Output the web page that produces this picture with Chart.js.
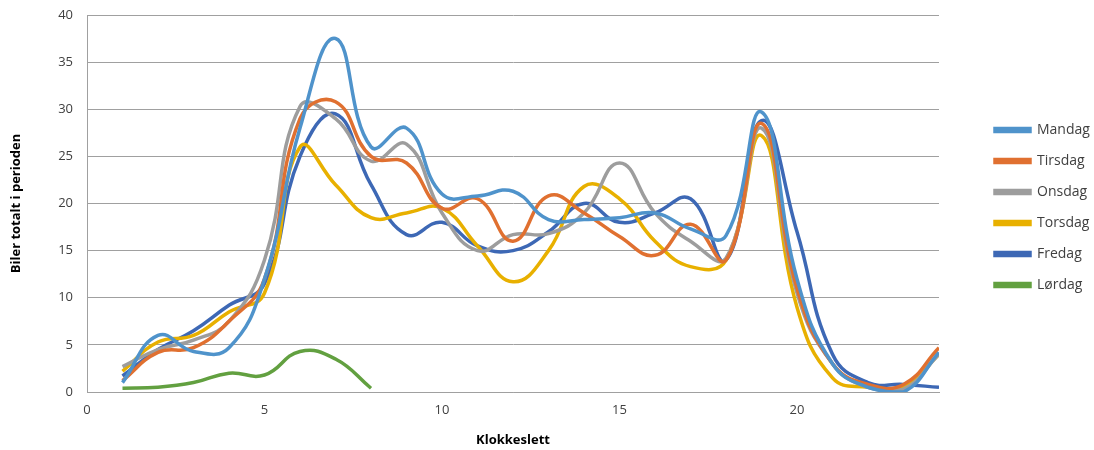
<!DOCTYPE html>
<html>
<head>
<meta charset="utf-8">
<script src="https://cdn.jsdelivr.net/npm/chart.js@4"></script>
<style>
  html, body { margin: 0; padding: 0; background: #fff; }
  #wrap { width: 1094px; height: 450px; }
</style>
</head>
<body>
<div id="wrap"><canvas id="biler"></canvas></div>
<script>
// Klokkeslett (timer)
const hours = [1, 2, 3, 4, 5, 6, 7, 8, 9, 10, 11, 12, 13, 14, 15, 16, 17, 18, 19, 20, 21, 22, 23, 24];

const mandag  = [1.0, 6.0, 4.3, 4.7, 12.0, 28.0, 37.5, 26.0, 28.0, 21.0, 20.8, 21.3, 18.3, 18.3, 18.5, 19.0, 17.3, 16.6, 29.7, 12.0, 3.0, 0.5, 0.0, 4.2];
const tirsdag = [1.2, 4.2, 4.7, 7.5, 12.0, 29.0, 30.8, 25.0, 24.3, 19.5, 20.5, 16.0, 20.8, 19.0, 16.5, 14.5, 17.8, 14.0, 28.5, 11.0, 3.0, 0.8, 0.8, 4.7];
const onsdag  = [2.7, 4.5, 5.5, 7.5, 14.0, 30.3, 29.0, 24.5, 26.3, 19.0, 15.0, 16.7, 16.8, 19.0, 24.3, 19.0, 16.0, 14.2, 28.0, 10.5, 3.0, 0.5, 0.3, 4.0];
const torsdag = [2.2, 5.3, 6.0, 8.5, 10.5, 26.0, 22.0, 18.5, 19.0, 19.5, 15.5, 11.7, 15.0, 21.8, 20.5, 16.0, 13.3, 14.0, 27.2, 9.0, 1.5, 0.5, 0.5, 4.0];
const fredag  = [1.7, 4.5, 6.5, 9.2, 11.5, 25.0, 29.5, 22.0, 16.7, 18.0, 15.5, 15.0, 17.0, 20.0, 18.0, 19.0, 20.5, 14.0, 28.8, 17.0, 4.0, 1.0, 0.8, 0.5];
const lordag  = [0.4, 0.5, 1.0, 2.0, 1.8, 4.3, 3.5, 0.4];

const xTicks = [0, 5, 10, 15, 20];

function serie(label, values, color) {
    return {
        label: label,
        data: values.map((v, i) => ({ x: hours[i], y: v })),
        borderColor: color,
        backgroundColor: color,
        borderWidth: 3.5,
        pointRadius: 0,
        tension: 0.45,
        fill: false
    };
}

// flytt legenden litt mot høyre og opp
const legendShift = {
    id: 'legendShift',
    afterInit(chart) {
        const fit = chart.legend.fit;
        chart.legend.fit = function () {
            fit.call(this);
            this.width = 155;
        };
    },
    afterLayout(chart) {
        chart.legend.left += 39;
        chart.legend.right += 39;
        chart.legend.top -= 25;
        chart.legend.bottom -= 25;
    }
};

const ctx = document.getElementById('biler').getContext('2d');
new Chart(ctx, {
    type: 'line',
    data: {
        datasets: [
            serie('Mandag', mandag, '#4f93cb'),
            serie('Tirsdag', tirsdag, '#e07030'),
            serie('Onsdag', onsdag, '#9d9d9d'),
            serie('Torsdag', torsdag, '#e8b000'),
            serie('Fredag', fredag, '#3d68b5'),
            serie('Lørdag', lordag, '#62a040')
        ]
    },
    plugins: [legendShift],
    options: {
        responsive: true,
        maintainAspectRatio: false,
        animation: false,
        layout: { padding: { top: 15, right: 0, bottom: 0, left: 0 } },
        plugins: {
            tooltip: { enabled: false },
            legend: {
                position: 'right',
                labels: {
                    boxWidth: 35,
                    boxHeight: 3,
                    padding: 17,
                    color: '#404040',
                    font: { family: 'Open Sans', size: 14 }
                }
            }
        },
        scales: {
            x: {
                type: 'linear',
                min: 0,
                max: 24,
                afterFit: s => { s.height = 58; },
                afterBuildTicks: s => { s.ticks = xTicks.map(v => ({ value: v })); },
                grid: { display: false, drawTicks: false },
                border: { display: true, color: '#a0a0a0', width: 1 },
                ticks: { color: '#404040', padding: 10, font: { family: 'Open Sans', size: 13 } },
                title: {
                    display: true,
                    text: 'Klokkeslett',
                    color: '#000',
                    padding: { top: 6, bottom: 2 },
                    font: { family: 'Open Sans', size: 13, weight: 'bold' }
                }
            },
            y: {
                min: 0,
                max: 40,
                afterFit: s => { s.width = 87; },
                grid: { color: '#a0a0a0', lineWidth: 1, drawTicks: true, tickLength: 11, tickColor: 'rgba(0,0,0,0)' },
                border: { display: true, color: '#a0a0a0', width: 1 },
                ticks: { stepSize: 5, color: '#404040', padding: 3, font: { family: 'Open Sans', size: 13 } },
                title: {
                    display: true,
                    text: 'Biler totalt i perioden',
                    color: '#000',
                    padding: { top: 8, bottom: 0 },
                    font: { family: 'Open Sans', size: 13, weight: 'bold' }
                }
            }
        }
    }
});
</script>
</body>
</html>
